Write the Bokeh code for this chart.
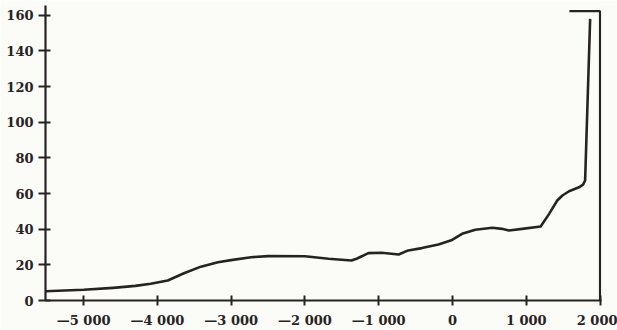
from bokeh.plotting import figure
from bokeh.models import FixedTicker, Range1d
from bokeh.embed import file_html
from bokeh.resources import INLINE

# Data
years = [-5517, -5000, -4600, -4300, -4090, -3860, -3640, -3410, -3180, -2980,
         -2730, -2500, -2000, -1680, -1370, -1300, -1140, -960, -730, -600,
         -415, -190, -5, 130, 310, 540, 670, 765, 945, 1195, 1310, 1420,
         1490, 1580, 1715, 1770, 1798, 1866]
values = [5.2, 6.0, 7.1, 8.2, 9.4, 11.2, 15.3, 19.0, 21.5, 22.8,
          24.3, 24.9, 24.8, 23.4, 22.4, 23.4, 26.6, 26.8, 25.8, 28.1,
          29.4, 31.4, 34.0, 37.4, 39.7, 40.8, 40.2, 39.3, 40.2, 41.5, 48.6, 56.1,
          58.9, 61.3, 63.5, 65.0, 67.3, 158.0]

x_ticks = [-5000, -4000, -3000, -2000, -1000, 0, 1000, 2000]
x_tick_labels = ["\u20145 000", "\u20144 000", "\u20143 000", "\u20142 000", "\u20141 000", "0", "1 000", "2 000"]
y_ticks = [0, 20, 40, 60, 80, 100, 120, 140, 160]

# frame bracket at the right
frame_x = [1585, 2000, 2000]
frame_y = [162.3, 162.3, 0]

ink = "#262422"
paper = "#fbfbf8"
font = "DejaVu Serif"

p = figure(width=617, height=330, output_backend="svg", toolbar_location=None,
           x_range=Range1d(-5517, 2020), y_range=Range1d(0, 165.5),
           min_border_left=45, min_border_right=16, min_border_top=5, min_border_bottom=30)
p.background_fill_color = paper
p.border_fill_color = paper
p.outline_line_color = None
p.grid.visible = False

p.line(years, values, line_color=ink, line_width=2.6, line_join="round")
p.line(frame_x, frame_y, line_color=ink, line_width=2.2)

for ax in (p.xaxis[0], p.yaxis[0]):
    ax.axis_line_color = ink
    ax.axis_line_width = 2.2
    ax.major_tick_line_color = ink
    ax.major_tick_line_width = 2
    ax.minor_tick_line_color = None
    ax.major_label_text_font = font
    ax.major_label_text_font_style = "bold"
    ax.major_label_text_font_size = "13px"
    ax.major_label_text_color = ink

p.xaxis.ticker = FixedTicker(ticks=x_ticks)
p.xaxis.major_label_overrides = {t: l for t, l in zip(x_ticks, x_tick_labels)}
p.xaxis.major_tick_in = 5
p.xaxis.major_tick_out = 5
p.xaxis.major_label_standoff = 7
p.yaxis.ticker = FixedTicker(ticks=y_ticks)
p.yaxis.major_tick_in = 5
p.yaxis.major_tick_out = 7
p.yaxis.major_label_standoff = 5

open("out.html", "w").write(file_html(p, INLINE))
